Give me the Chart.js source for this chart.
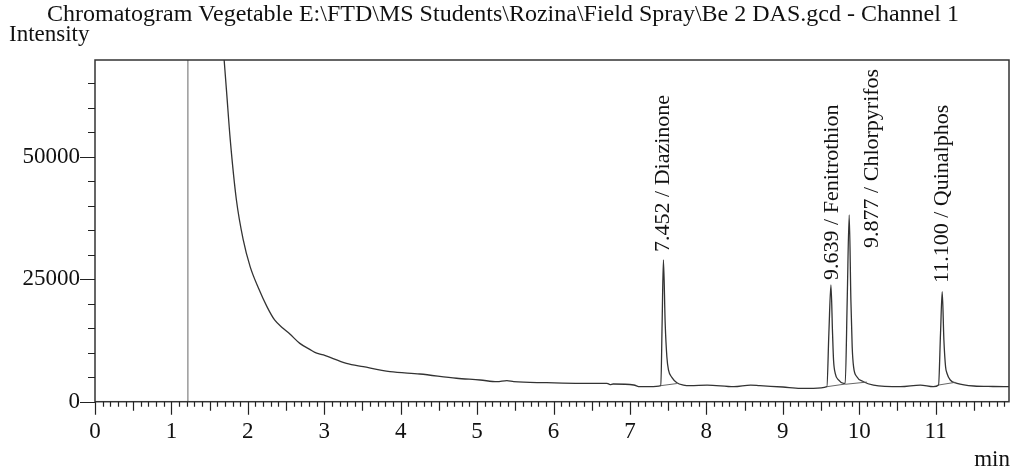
<!DOCTYPE html>
<html><head><meta charset="utf-8">
<script src="https://cdn.jsdelivr.net/npm/chart.js@4.4.1/dist/chart.umd.min.js"></script>
<style>html,body{margin:0;padding:0;background:#fff}#wrap{width:1018px;height:472px}</style>
</head><body><div id="wrap"><canvas id="c" width="1018" height="472"></canvas></div>
<script>
// ---------- DATA ----------
const titleText = "Chromatogram Vegetable E:\\FTD\\MS Students\\Rozina\\Field Spray\\Be 2 DAS.gcd - Channel 1";
const yAxisTitle = "Intensity";
const xAxisTitle = "min";
const xTickValues = [0, 1, 2, 3, 4, 5, 6, 7, 8, 9, 10, 11];
const yTickValues = [0, 25000, 50000];
const xMax = 11.96;
const yMax = 69700;
const markerTime = 1.215;

const traceTimes = [1.690, 1.720, 1.770, 1.850, 1.940, 2.030, 2.140, 2.250, 2.350, 2.460, 2.550, 2.680, 2.840, 2.870, 2.990, 3.290, 3.510, 3.860, 4.250, 4.730, 5.040, 5.260, 5.390, 5.480, 5.910, 6.350, 6.700, 6.740, 6.780, 7.050, 7.130, 7.260,
  7.404, 7.421, 7.438, 7.461, 7.483, 7.504, 7.548, 7.614, 7.700, 7.790, 8.010, 8.360, 8.580, 8.700, 9.000, 9.230, 9.400,
  9.577, 9.603, 9.630, 9.651, 9.664, 9.686, 9.729, 9.795, 9.817, 9.843, 9.869, 9.891, 9.908, 9.926, 9.969, 10.056, 10.187, 10.540, 10.800, 10.970,
  11.038, 11.064, 11.086, 11.108, 11.130, 11.148, 11.191, 11.279, 11.500, 11.750, 11.960];
const traceIntensity = [69700, 63600, 53400, 41200, 33000, 27550, 23140, 19400, 16670, 15000, 13800, 11900, 10400, 10100, 9530, 7840, 7140, 6120, 5650, 4780, 4430, 4080, 4290, 4080, 3880, 3750, 3750, 3500, 3610, 3410, 3060, 3060,
  3270, 16000, 28900, 16000, 9180, 6470, 4980, 3880, 3400, 3270, 3400, 3060, 3400, 3270, 3000, 2730, 2730,
  3060, 13960, 23800, 13960, 8510, 5800, 4430, 3750, 3750, 20750, 38100, 20750, 11220, 7140, 5100, 4080, 3400, 3060, 3400, 3060,
  3400, 13960, 22450, 12590, 7140, 5800, 4430, 3750, 3200, 3100, 3060];

const baselineTimes = [7.404, 7.614, null, 9.577, 9.817, null, 9.817, 10.100, null, 11.038, 11.257];
const baselineIntensity = [3270, 3700, null, 3060, 3600, null, 3550, 4000, null, 3400, 3950];

const peakLabels = ["7.452 / Diazinone", "9.639 / Fenitrothion", "9.877 / Chlorpyrifos", "11.100 / Quinalphos"];
const labelTimes = [7.435, 9.643, 10.166, 11.083];
const labelIntensity = [30550, 24840, 31370, 24220];

// ---------- CHART ----------
const FONT = 'Liberation Serif, "Times New Roman", serif';
const tracePts = traceTimes.map((t, i) => ({x: t, y: traceIntensity[i]}));
const basePts = baselineTimes.map((t, i) => t === null ? {x: NaN, y: null} : ({x: t, y: baselineIntensity[i]}));
const markerPts = [{x: markerTime, y: 0}, {x: markerTime, y: yMax}];

const decor = {
  id: 'decor',
  afterDraw(chart) {
    const ctx = chart.ctx, a = chart.chartArea;
    const xs = chart.scales.x, ys = chart.scales.y;
    ctx.save();
    // peak labels
    ctx.save();
    ctx.beginPath(); ctx.rect(a.left, a.top, a.right - a.left, a.bottom - a.top); ctx.clip();
    ctx.fillStyle = '#111';
    ctx.font = '22px ' + FONT;
    ctx.textAlign = 'left'; ctx.textBaseline = 'middle';
    peakLabels.forEach((lab, i) => {
      const px = xs.getPixelForValue(labelTimes[i]);
      const py = ys.getPixelForValue(labelIntensity[i]);
      ctx.save(); ctx.translate(px, py); ctx.rotate(-Math.PI / 2);
      ctx.fillText(lab, 0, 0);
      ctx.restore();
    });
    ctx.restore();
    // border box
    ctx.strokeStyle = '#333'; ctx.lineWidth = 1.5;
    ctx.strokeRect(a.left, a.top, a.right - a.left, a.bottom - a.top);
    // x ticks
    ctx.lineWidth = 1.2; ctx.strokeStyle = '#222';
    ctx.beginPath();
    const nX = Math.floor(xMax * 10 + 1e-6);
    for (let i = 0; i <= nX; i++) {
      const v = i / 10;
      const px = Math.round(xs.getPixelForValue(v)) + 0.5;
      const len = (i % 10 === 0) ? 13 : (i % 5 === 0 ? 9 : 5);
      ctx.moveTo(px, a.bottom); ctx.lineTo(px, a.bottom + len);
    }
    // y ticks
    for (let v = 0; v < yMax; v += 5000) {
      const py = Math.round(ys.getPixelForValue(v)) + 0.5;
      const len = (v % 25000 === 0) ? 15 : 7;
      ctx.moveTo(a.left, py); ctx.lineTo(a.left - len, py);
    }
    ctx.stroke();
    // titles
    ctx.fillStyle = '#111';
    ctx.textBaseline = 'alphabetic';
    ctx.textAlign = 'left';
    ctx.font = '24px ' + FONT;
    ctx.fillText(titleText, 47, 21);
    ctx.font = '23px ' + FONT;
    ctx.fillText(yAxisTitle, 9, 41);
    ctx.textAlign = 'right';
    ctx.fillText(xAxisTitle, 1010, 466);
    ctx.restore();
  }
};

new Chart(document.getElementById('c'), {
  type: 'line',
  data: {
    datasets: [
      {data: markerPts, borderColor: '#9a9a9a', borderWidth: 1.5, pointRadius: 0, tension: 0},
      {data: basePts, borderColor: '#555', borderWidth: 0.9, pointRadius: 0, tension: 0, spanGaps: false},
      {data: tracePts, borderColor: '#333', borderWidth: 1.3, pointRadius: 0, cubicInterpolationMode: 'monotone'}
    ]
  },
  options: {
    responsive: false, animation: false,
    layout: {padding: {top: 60, right: 9, left: 0, bottom: 0}},
    plugins: {legend: {display: false}, tooltip: {enabled: false}, title: {display: false}},
    scales: {
      x: {
        type: 'linear', min: 0, max: xMax,
        afterBuildTicks: s => { s.ticks = xTickValues.map(v => ({value: v})); },
        afterFit: s => { s.height = 70.3; },
        grid: {display: true, drawOnChartArea: false, drawTicks: true, tickLength: 0, color: 'rgba(0,0,0,0)'},
        border: {display: false},
        ticks: {padding: 16, color: '#111', font: {family: FONT, size: 23}, maxRotation: 0, autoSkip: false, callback: v => String(v)}
      },
      y: {
        type: 'linear', min: 0, max: yMax,
        afterBuildTicks: s => { s.ticks = yTickValues.map(v => ({value: v})); },
        afterFit: s => { s.width = 95; },
        grid: {display: true, drawOnChartArea: false, drawTicks: true, tickLength: 0, color: 'rgba(0,0,0,0)'},
        border: {display: false},
        ticks: {padding: 15, color: '#111', font: {family: FONT, size: 23}, autoSkip: false, callback: v => String(v)}
      }
    }
  },
  plugins: [decor]
});
</script>
</body></html>
